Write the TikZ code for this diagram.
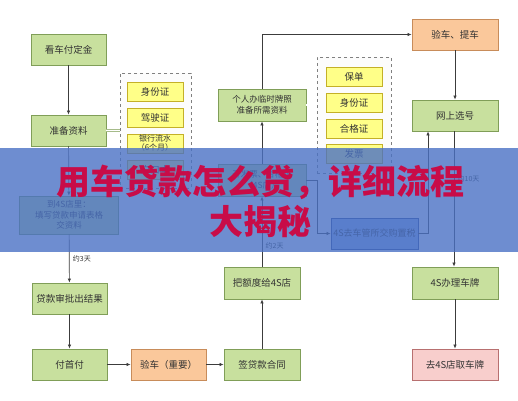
\documentclass[tikz,border=0pt]{standalone}
\usepackage{fontspec}
\setmainfont{Noto Sans CJK SC}
\usetikzlibrary{arrows.meta}

\definecolor{boxgreen}{RGB}{200,224,158}
\definecolor{edgegreen}{RGB}{128,158,88}
\definecolor{boxorange}{RGB}{250,200,155}
\definecolor{edgeorange}{RGB}{200,140,90}
\definecolor{boxpink}{RGB}{248,206,204}
\definecolor{edgepink}{RGB}{184,112,112}
\definecolor{boxyellow}{RGB}{255,255,136}
\definecolor{edgeyellow}{RGB}{196,176,40}
\definecolor{boxblue}{RGB}{150,180,240}
\definecolor{edgeblue}{RGB}{40,70,150}
\definecolor{bandblue}{RGB}{74,113,196}
\definecolor{titlered}{RGB}{200,12,72}
\definecolor{linegray}{RGB}{60,60,60}

\begin{document}
\begin{tikzpicture}[x = 1pt, y = -1pt,
  box/.style = {draw, line width = 0.8pt, minimum width = 75pt, minimum height = 31pt,
    inner sep = 1pt, align = center, text = black!80, font = \fontsize{9.5}{12}\selectfont},
  gbox/.style = {box, fill = boxgreen, draw = edgegreen},
  obox/.style = {box, fill = boxorange, draw = edgeorange},
  pbox/.style = {box, fill = boxpink, draw = edgepink},
  bbox/.style = {box, fill = boxblue, draw = edgeblue, minimum width = 87pt},
  ybox/.style = {box, fill = boxyellow, draw = edgeyellow, minimum width = 56pt,
    minimum height = 19pt},
  group/.style = {draw = gray, dashed, line width = 0.6pt, fill = black!1,
    minimum width = 71pt},
  flow/.style = {draw = linegray, line width = 0.7pt, -{Latex[length = 4pt, width = 3.5pt]}},
  twin/.style = {draw = edgegreen!70, double = white, line width = 0.5pt, double distance = 1.2pt},
  note/.style = {right, text = black!80, font = \fontsize{7}{8}\selectfont}
]
\useasboundingbox (0, 0) rectangle (518, 400);

% left column
\node[gbox] (kanche) at (68.5, 49.5) {看车付定金};
\node[gbox] (zhunbei) at (68.5, 130.5) {准备资料};
\node[gbox, minimum width = 99pt, minimum height = 38pt, font = \fontsize{8.5}{10.5}\selectfont]
  (daodian) at (69, 215) {到4S店里：\\填写贷款申请表格\\交资料};
\node[gbox] (shenpi) at (69.5, 298.5) {贷款审批出结果};
\node[gbox] (shoufu) at (69.5, 364.5) {付首付};

% materials for the loan
\node[group, minimum height = 115pt] (ziliao) at (155.5, 130.5) {};
\node[ybox] (sfz1) at (155, 92) {身份证};
\node[ybox] (jsz) at (155, 118) {驾驶证};
\node[ybox, font = \fontsize{8}{9}\selectfont] (liushui) at (155, 143.5) {银行流水\\（6个月）};
\node[ybox] (hukou) at (155, 170) {户口本};

% bottom row and middle column
\node[obox] (yanche) at (168.5, 364.5) {验车（重要）};
\node[gbox, minimum width = 76pt] (hetong) at (262, 364.5) {签贷款合同};
\node[gbox, minimum width = 76pt, minimum height = 32pt] (edu) at (262, 283) {把额度给4S店};
\node[gbox, minimum width = 88pt, minimum height = 32pt, font = \fontsize{8.5}{10.5}\selectfont]
  (fapiao) at (262, 180) {开发票、合格证\\（4S店）};
\node[gbox, minimum width = 88pt, minimum height = 32pt, font = \fontsize{8.5}{10.5}\selectfont]
  (geren) at (262, 105) {个人办临时牌照\\准备所需资料};

% materials for the plate
\node[group, minimum height = 116pt, minimum width = 74pt] (cailiao) at (354, 115) {};
\node[ybox] (baodan) at (354, 76.5) {保单};
\node[ybox] (sfz2) at (354, 102.5) {身份证};
\node[ybox] (hgz) at (354, 128.5) {合格证};
\node[ybox] (fp) at (354, 154) {发票};

% right column
\node[obox, minimum width = 86pt] (tiche) at (455, 34.5) {验车、提车};
\node[gbox, minimum width = 86pt] (xuanhao) at (455, 115.5) {网上选号};
\node[bbox, minimum height = 31pt, font = \fontsize{9}{11}\selectfont]
  (gouzhi) at (374.5, 233.5) {4S去车管所交购置税};
\node[gbox, minimum width = 86pt, minimum height = 32pt] (paizhao) at (455, 283) {4S办理车牌};
\node[pbox, minimum width = 86pt] (qupai) at (455, 364.5) {去4S店取车牌};

% connectors
\draw[twin] (zhunbei.east) -- (ziliao.west);
\draw[twin] (geren.east) -- (geren.east -| cailiao.west);
\draw[flow] (kanche) -- (zhunbei);
\draw[flow] (zhunbei) -- (daodian);
\draw[flow] (daodian) -- node[note] {约3天} (shenpi);
\draw[flow] (shenpi) -- (shoufu);
\draw[flow] (shoufu) -- (yanche);
\draw[flow] (yanche) -- (hetong);
\draw[flow] (hetong) -- (edu);
\draw[flow] (edu) -- node[note, pos = 0.3] {约2天} (fapiao);
\draw[flow] (fapiao) -- (geren);
\draw[flow] (geren) |- (tiche);
\draw[flow] (tiche) -- (xuanhao);
\draw[flow] (fapiao.east) -- ++(11, 0) |- (gouzhi);
\draw[flow] (gouzhi.east) -| ([xshift = -27pt]xuanhao.south);
\draw[flow] ([xshift = -1pt]xuanhao.south) -- node[note, pos = 0.35] {约10天}
  ([xshift = -1pt]paizhao.north);
\draw[flow] (paizhao) -- (qupai);

% banner
\fill[bandblue, opacity = 0.8] (0, 148) rectangle (518, 252);
\node[text = titlered, align = center, inner sep = 0pt,
  font = \fontsize{34}{40}\selectfont\bfseries] (biaoti) at (260, 201)
  {用车贷款怎么贷，详细流程\\大揭秘};

\end{tikzpicture}
\end{document}
